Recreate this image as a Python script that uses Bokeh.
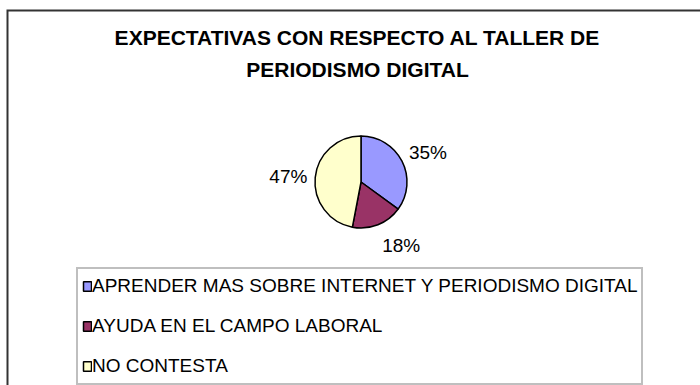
import math
from bokeh.plotting import figure
from bokeh.models import Range1d, Label, Legend, LegendItem, ColumnDataSource
from bokeh.core.properties import value
from bokeh.embed import file_html
from bokeh.resources import INLINE

# ---- data ----
categories = [
    "APRENDER MAS SOBRE INTERNET Y PERIODISMO DIGITAL",
    "AYUDA EN EL CAMPO LABORAL",
    "NO CONTESTA",
]
values = [35, 18, 47]
colors = ["#9999FF", "#993366", "#FFFFCC"]
title_lines = ["EXPECTATIVAS CON RESPECTO AL TALLER DE", "PERIODISMO DIGITAL"]

# ---- layout ----
W, H = 700, 385
CX, CY, R = 360.5, 203.5, 46
LABEL_R = 74
label_offsets = [(1, -4), (13, 5), (1, -1.5)]
FONT = "Liberation Sans"
FRAME_X = [7, 7, W + 20]
FRAME_Y = [-20, 375, 375]

p = figure(width=W, height=H, output_backend="svg", toolbar_location=None,
           x_range=Range1d(0, W), y_range=Range1d(0, H), min_border=0)
p.axis.visible = False
p.xgrid.visible = False
p.ygrid.visible = False
p.outline_line_color = None
p.background_fill_color = "white"
p.border_fill_color = "white"

# chart-area frame (only left/top edges visible in the crop)
p.line(x=FRAME_X, y=FRAME_Y, line_color="#333333", line_width=2, line_join="miter")

# pie wedges (start at 12 o'clock, clockwise)
total = float(sum(values))
starts, ends, mids, texts = [], [], [], []
cum = 0.0
for v in values:
    a_before = math.pi / 2 - 2 * math.pi * cum / total
    cum += v
    a_after = math.pi / 2 - 2 * math.pi * cum / total
    starts.append(a_after)
    ends.append(a_before)
    mids.append((a_before + a_after) / 2)
    texts.append(f"{round(100 * v / total)}%")

src = ColumnDataSource(dict(start=starts, end=ends, color=colors, label=categories))
wr = p.wedge(x=CX, y=CY, radius=R, start_angle="start", end_angle="end",
             direction="anticlock", fill_color="color", line_color="black",
             line_width=1.5, source=src)

lx = [CX + LABEL_R * math.cos(m) + o[0] for m, o in zip(mids, label_offsets)]
ly = [CY + LABEL_R * math.sin(m) + o[1] for m, o in zip(mids, label_offsets)]
p.text(x=lx, y=ly, text=texts, text_font=value(FONT), text_font_size="19px",
       text_align="center", text_baseline="middle", text_color="black")

# title
for t, y in zip(title_lines, [348, 316.5]):
    p.add_layout(Label(x=357, y=y, text=t, text_font=FONT, text_font_size="21px",
                       text_font_style="bold", text_align="center",
                       text_baseline="middle", text_color="black"))

# legend
items = [LegendItem(label=c, renderers=[wr], index=i) for i, c in enumerate(categories)]
legend = Legend(items=items, location=(76, 0), orientation="vertical",
                padding=4, spacing=14, margin=0,
                glyph_width=10, glyph_height=12, label_standoff=0, label_height=26,
                label_text_font=FONT, label_text_font_size="19px",
                label_text_color="black",
                border_line_color="#7f7f7f", border_line_width=2,
                background_fill_color="white", background_fill_alpha=1.0)
p.add_layout(legend)

open("out.html", "w").write(file_html(p, INLINE))
